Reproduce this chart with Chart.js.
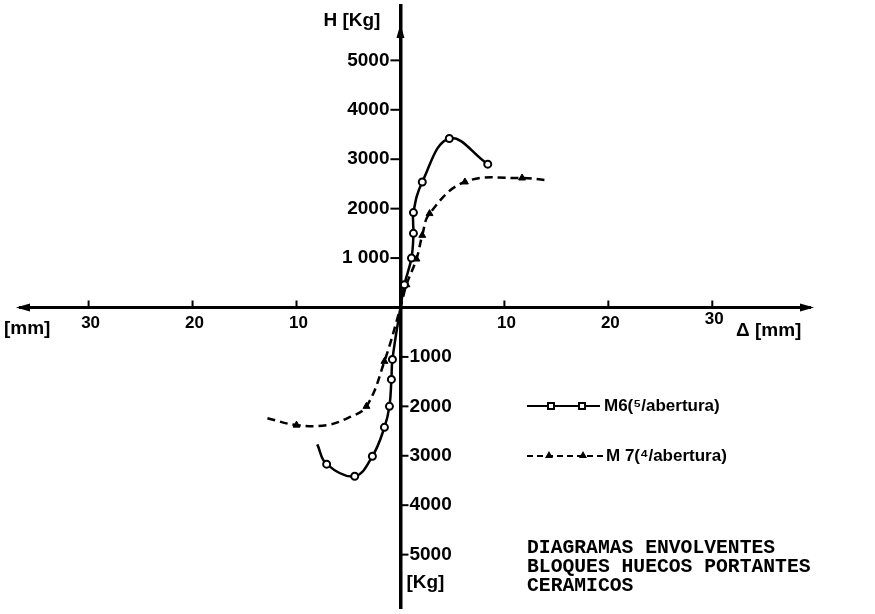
<!DOCTYPE html>
<html>
<head>
<meta charset="utf-8">
<script src="https://cdn.jsdelivr.net/npm/chart.js@4.4.1/dist/chart.umd.min.js"></script>
<style>
  body { margin: 0; background: #fff; }
  #cadre { position: relative; width: 875px; height: 614px; }
  #nota {
    position: absolute; left: 527px; top: 539px;
    font: bold 19.7px "Liberation Mono", "DejaVu Sans Mono", monospace;
    line-height: 19px; white-space: pre; color: #000;
  }
</style>
</head>
<body>
<div id="cadre">
  <canvas id="diagrama" width="875" height="614"></canvas>
  <div id="nota">DIAGRAMAS ENVOLVENTES
BLOQUES HUECOS PORTANTES
CERAMICOS</div>
</div>
<script>
// desplazamiento Δ [mm] y carga H [Kg]
const m6Delta = [-8.0, -7.1, -4.4, -2.7, -1.54, -1.06, -0.87, -0.77, 0, 0.38, 1.06, 1.25, 1.25, 2.1, 4.7, 8.4];
const m6H     = [-2770, -3170, -3415, -3010, -2425, -2000, -1455, -1050, 0, 460, 1000, 1500, 1920, 2540, 3420, 2900];

const m7Delta = [-12.8, -10.0, -7.1, -4.9, -3.27, -1.54, 0, 0.58, 1.54, 2.1, 2.8, 6.2, 11.7, 13.85];
const m7H     = [-2240, -2380, -2380, -2220, -2000, -1090, 0, 460, 980, 1460, 1900, 2540, 2620, 2580];

const series = ['M6(⁵/abertura)', 'M 7(⁴/abertura)'];

const ticksDelta = [-30, -20, -10, 10, 20, 30];
const ticksH = [5000, 4000, 3000, 2000, 1000, -1000, -2000, -3000, -4000, -5000];
const etiquetasH = ['5000', '4000', '3000', '2000', '1 000', '1000', '2000', '3000', '4000', '5000'];

// puntos de la curva que no llevan marca
const m6SinMarca = [0, 8];
const m7SinMarca = [0, 2, 3, 6, 13];

const fuente = 'bold 19px "Liberation Sans", Arial, sans-serif';
const fuenteX = 'bold 17px "Liberation Sans Narrow", "Liberation Sans", sans-serif';

// dibuja ejes, etiquetas y leyenda a partir de las escalas
const ejes = {
  id: 'ejes',
  afterDraw(chart) {
    const c = chart.ctx;
    const sx = chart.scales.x;
    const sy = chart.scales.y;
    const area = chart.chartArea;
    const x0 = sx.getPixelForValue(0);
    const y0 = sy.getPixelForValue(0);

    c.save();
    c.strokeStyle = '#000';
    c.fillStyle = '#000';
    c.lineWidth = 2;

    // ticks eje horizontal
    c.font = fuenteX;
    c.textAlign = 'center';
    c.textBaseline = 'middle';
    ticksDelta.forEach(v => {
      const px = sx.getPixelForValue(v);
      c.beginPath(); c.moveTo(px, y0); c.lineTo(px, y0 - 7); c.stroke();
      c.fillText(String(Math.abs(v)), px + 2, v === 30 ? y0 + 12 : y0 + 16);
    });

    // ticks eje vertical
    c.font = fuente;
    ticksH.forEach((v, i) => {
      const py = sy.getPixelForValue(v);
      c.beginPath();
      if (v > 0) {
        c.moveTo(x0 - 10, py); c.lineTo(x0, py); c.stroke();
        c.textAlign = 'right';
        c.fillText(etiquetasH[i], x0 - 11, py);
      } else {
        c.moveTo(x0, py); c.lineTo(x0 + 8, py); c.stroke();
        c.textAlign = 'left';
        c.fillText(etiquetasH[i], x0 + 9, py);
      }
    });

    // unidades
    c.textAlign = 'right';
    c.fillText('H [Kg]', x0 - 20, 21);
    c.textAlign = 'left';
    c.fillText('[Kg]', x0 + 6, 583);
    c.fillText('[mm]', 4, y0 + 21);
    c.fillText('Δ [mm]', 736, y0 + 23);

    // flechas
    c.beginPath();
    c.moveTo(area.left - 4, y0); c.lineTo(area.left + 10, y0 - 4); c.lineTo(area.left + 10, y0 + 4); c.closePath();
    c.moveTo(area.right + 4, y0); c.lineTo(area.right - 10, y0 - 4); c.lineTo(area.right - 10, y0 + 4); c.closePath();
    c.moveTo(x0, area.top + 18); c.lineTo(x0 - 4, area.top + 32); c.lineTo(x0 + 4, area.top + 32); c.closePath();
    c.fill();

    // leyenda
    c.lineWidth = 2;
    c.setLineDash([]);
    c.beginPath(); c.moveTo(527, 406); c.lineTo(600, 406); c.stroke();
    [551, 582].forEach(px => {
      c.fillStyle = '#fff';
      c.fillRect(px - 3, 403, 6, 6);
      c.strokeRect(px - 3, 403, 6, 6);
    });
    c.setLineDash([6, 4]);
    c.beginPath(); c.moveTo(527, 456); c.lineTo(604, 456); c.stroke();
    c.setLineDash([]);
    c.fillStyle = '#000';
    [549, 583].forEach(px => {
      c.beginPath(); c.moveTo(px, 451); c.lineTo(px - 4, 458); c.lineTo(px + 4, 458); c.closePath(); c.fill();
    });
    c.font = 'bold 17px "Liberation Sans", Arial, sans-serif';
    c.textAlign = 'left';
    c.fillText(series[0], 604, 406);
    c.fillText(series[1], 606, 456);
    c.restore();
  }
};

const ctx = document.querySelector('#diagrama');

new Chart(ctx, {
  type: 'scatter',
  data: {
    datasets: [{
      label: series[0],
      data: m6Delta.map((d, i) => ({ x: d, y: m6H[i] })),
      showLine: true,
      borderColor: '#000',
      borderWidth: 2.5,
      tension: 0.4,
      pointStyle: 'circle',
      pointRadius: c => m6SinMarca.includes(c.dataIndex) ? 0 : 3.5,
      pointBackgroundColor: '#fff',
      pointBorderColor: '#000',
      pointBorderWidth: 2
    }, {
      label: series[1],
      data: m7Delta.map((d, i) => ({ x: d, y: m7H[i] })),
      showLine: true,
      borderColor: '#000',
      borderWidth: 2.5,
      borderDash: [8, 5],
      tension: 0.4,
      pointStyle: 'triangle',
      pointRadius: c => m7SinMarca.includes(c.dataIndex) ? 0 : 4,
      pointBackgroundColor: '#000',
      pointBorderColor: '#000',
      pointBorderWidth: 1
    }]
  },
  options: {
    responsive: false,
    animation: false,
    layout: { padding: { left: 20, right: 65, top: 5, bottom: 4 } },
    plugins: { legend: { display: false }, tooltip: { enabled: false } },
    scales: {
      x: {
        type: 'linear', min: -36.6, max: 39.4, position: { y: 0 },
        grid: { display: false, drawTicks: false },
        ticks: { display: false },
        border: { color: '#000', width: 3 }
      },
      y: {
        type: 'linear', min: -6080, max: 6100, position: { x: 0 },
        grid: { display: false, drawTicks: false },
        ticks: { display: false },
        border: { color: '#000', width: 3.5 }
      }
    }
  },
  plugins: [ejes]
});
</script>
</body>
</html>
